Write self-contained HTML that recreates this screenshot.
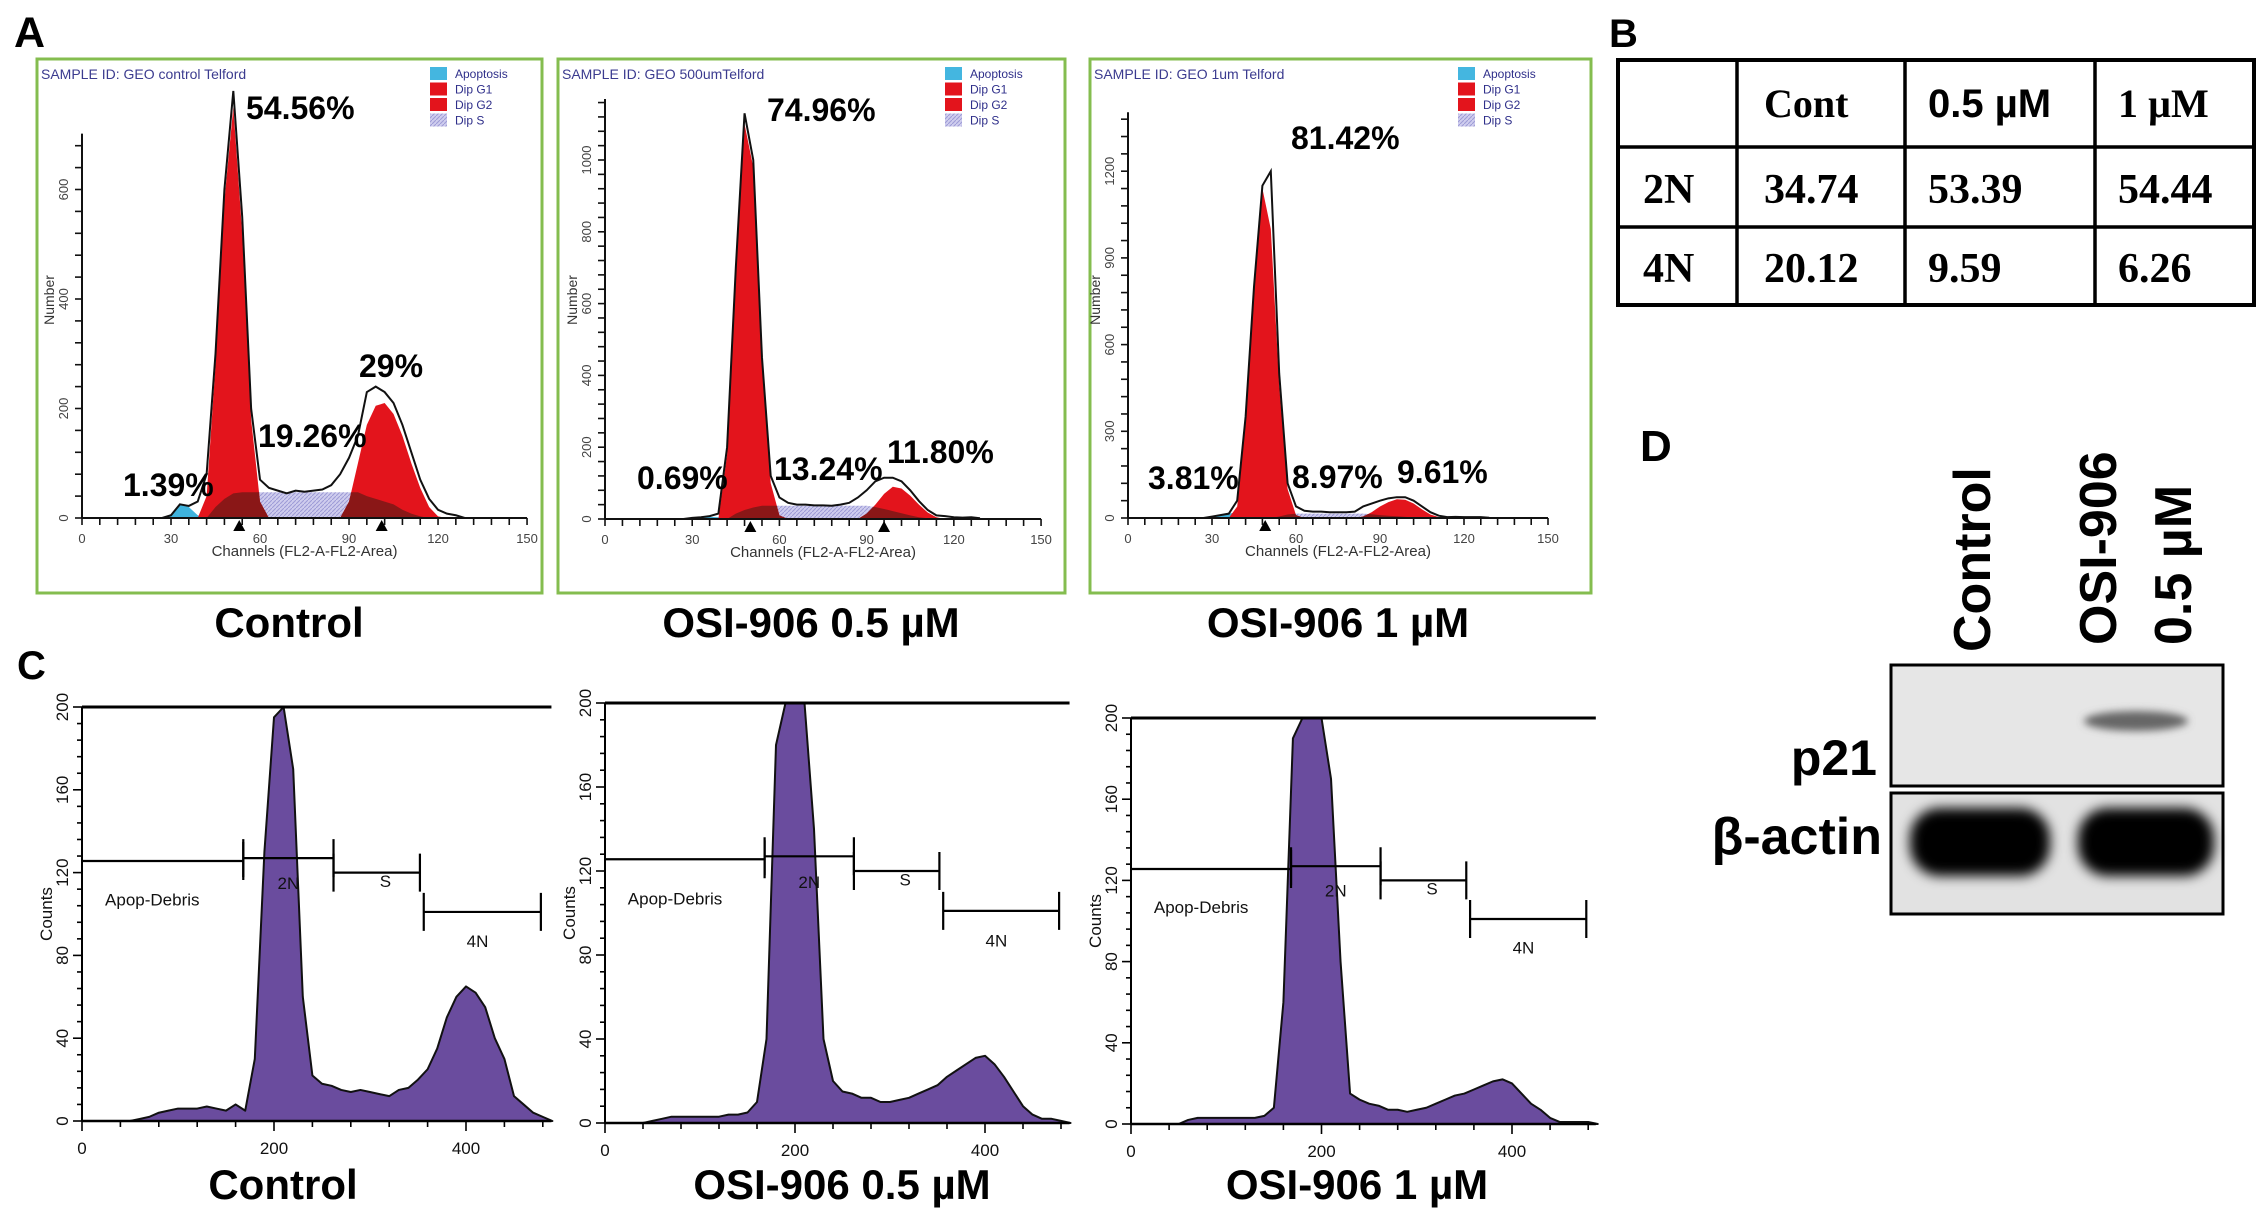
<!DOCTYPE html>
<html><head><meta charset="utf-8"><title>OSI-906 cell cycle figure</title>
<style>
html,body{margin:0;padding:0;background:#fff;}
svg{display:block;font-family:"Liberation Sans",Arial,sans-serif;}
</style></head>
<body>
<svg id="fig" width="2268" height="1215" viewBox="0 0 2268 1215" xmlns="http://www.w3.org/2000/svg">
<defs>
<filter id="blur6" x="-30%" y="-60%" width="160%" height="220%"><feGaussianBlur stdDeviation="6"/></filter>
<filter id="blur4" x="-30%" y="-60%" width="160%" height="220%"><feGaussianBlur stdDeviation="4"/></filter>
<pattern id="hatch" width="4" height="4" patternUnits="userSpaceOnUse"><rect width="4" height="4" fill="#cfcdee"/><path d="M0,4 L4,0" stroke="#9d9ad6" stroke-width="1"/></pattern>
</defs>
</svg>
<script>
// ---------- Panel A data (DNA content histograms, channel grid) ----------
const aChannels = [27,30,33,36,39,42,45,48,51,54,57,60,63,66,69,72,75,78,81,84,87,90,93,96,99,102,105,108,111,114,117,120,123,126,129];
const a1Outline = [0,5,25,22,30,80,300,600,780,550,200,70,55,50,45,50,48,50,52,60,80,110,150,230,240,230,210,170,120,70,35,15,8,5,0];
const a1G1 = [0,0,0,0,0,40,280,580,750,520,180,30,0,0,0,0,0,0,0,0,0,0,0,0,0,0,0,0,0,0,0,0,0,0,0];
const a1G2 = [0,0,0,0,0,0,0,0,0,0,0,0,0,0,0,0,0,0,0,0,0,30,100,170,205,210,190,150,100,55,20,3,0,0,0];
const a1S = [0,0,0,0,0,0,20,35,45,47,47,47,47,47,47,47,47,47,47,47,47,47,47,40,35,30,25,15,8,3,0,0,0,0,0];
const a1Apop = [0,5,25,20,5,0,0,0,0,0,0,0,0,0,0,0,0,0,0,0,0,0,0,0,0,0,0,0,0,0,0,0,0,0,0];
const a2Outline = [0,3,5,8,15,200,700,1130,1000,450,120,60,45,40,40,38,38,37,40,45,60,80,105,115,115,105,80,50,25,10,8,5,4,5,2];
const a2G1 = [0,0,0,0,0,180,680,1100,980,430,100,10,0,0,0,0,0,0,0,0,0,0,0,0,0,0,0,0,0,0,0,0,0,0,0];
const a2G2 = [0,0,0,0,0,0,0,0,0,0,0,0,0,0,0,0,0,0,0,0,0,15,40,70,90,85,65,40,18,5,0,0,0,0,0];
const a2S = [0,0,0,0,0,0,15,25,32,37,37,37,37,37,37,37,37,37,37,37,37,37,33,28,22,16,10,5,2,0,0,0,0,0,0];
const a2Apop = [0,2,4,6,5,0,0,0,0,0,0,0,0,0,0,0,0,0,0,0,0,0,0,0,0,0,0,0,0,0,0,0,0,0,0];
const a3Outline = [0,5,10,15,60,350,800,1150,1200,500,120,40,25,22,22,20,20,20,22,40,50,60,68,72,72,60,40,20,8,3,4,3,3,3,1];
const a3G1 = [0,0,0,0,40,330,780,1140,1000,460,100,10,0,0,0,0,0,0,0,0,0,0,0,0,0,0,0,0,0,0,0,0,0,0,0];
const a3G2 = [0,0,0,0,0,0,0,0,0,0,0,0,0,0,0,0,0,0,0,5,20,40,55,65,63,50,30,12,3,0,0,0,0,0,0];
const a3S = [0,0,0,0,0,0,0,0,0,5,12,15,15,15,15,15,15,15,15,15,13,10,8,6,4,2,0,0,0,0,0,0,0,0,0];
const a3Apop = [0,5,10,15,20,0,0,0,0,0,0,0,0,0,0,0,0,0,0,0,0,0,0,0,0,0,0,0,0,0,0,0,0,0,0];
const a1YTicks = [0,200,400,600];
const a2YTicks = [0,200,400,600,800,1000];
const a3YTicks = [0,300,600,900,1200];
const aXTicks = [0,30,60,90,120,150];
const a1Markers = [53,101];
const a2Markers = [50,96];
const a3Markers = [49];
const a1Pct = ['54.56%','29%','19.26%','1.39%'];
const a2Pct = ['74.96%','11.80%','13.24%','0.69%'];
const a3Pct = ['81.42%','9.61%','8.97%','3.81%'];
const legendLabels = ['Apoptosis','Dip G1','Dip G2','Dip S'];

// ---------- Panel C data (counts, x grid step 10) ----------
const cX = [0,10,20,30,40,50,60,70,80,90,100,110,120,130,140,150,160,170,180,190,200,210,220,230,240,250,260,270,280,290,300,310,320,330,340,350,360,370,380,390,400,410,420,430,440,450,460,470,480,490];
const c1Counts = [0,0,0,0,0,0,1,2,4,5, 6,6,6,7,6,5,8,5,30,130, 195,200,170,60,22,18,17,15,14,15, 14,13,12,15,16,20,25,35,50,60, 65,62,55,40,30,12,8,4,2,0];
const c2Counts = [0,0,0,0,0,1,2,3,3,3, 3,3,3,4,4,5,10,40,180,200, 200,200,140,40,20,15,14,12,12,10, 10,11,12,14,16,18,22,25,28,31, 32,28,22,15,8,4,2,2,1,0];
const c3Counts = [0,0,0,0,0,0,2,3,3,3, 3,3,3,3,4,8,60,190,200,200, 200,170,80,15,12,10,9,7,7,6, 7,8,10,12,14,15,17,19,21,22, 20,15,10,7,3,1,1,1,1,0];
const cYTicks = [0,40,80,120,160,200];
const cXTicks = [0,200,400];
const gateNames = ['Apop-Debris','2N','S','4N'];
const gateStart = [0,168,262,356];
const gateEnd = [168,262,352,478];
const gateLevel = [125.6,127,120,101];

// ---------- Panel B table ----------
const tableCols = ['', 'Cont', '0.5 µM', '1 µM'];
const tableRows = ['2N','4N'];
const table2N = ['34.74','53.39','54.44'];
const table4N = ['20.12','9.59','6.26'];

const NS='http://www.w3.org/2000/svg';
const svg=document.getElementById('fig');
function mk(tag,attrs,parent){const e=document.createElementNS(NS,tag);for(const k in attrs)e.setAttribute(k,attrs[k]);(parent||svg).appendChild(e);return e;}
function txt(str,attrs,parent){const e=mk('text',attrs,parent);e.textContent=str;return e;}

// panel letters
[['A',14,47,43],['B',1609,47,40],['C',17,679,40],['D',1640,461,44]].forEach(l=>{
  const t=txt(l[0],{x:l[1],y:l[2],'font-size':l[3],'font-weight':'bold',fill:'#000'});
  
  
});

// ---------- Panel A ----------
function drawA(id, cfg, outline, g1, g2, s, apop, yTicks, markers, pct, pctPos, sample, title){
  const g=mk('g',{});
  
  
  const sx=c=>cfg.ox+c*cfg.pxCh, sy=v=>cfg.oy-v*cfg.pxCnt;
  const fr=mk('rect',{x:cfg.fx,y:59,width:cfg.fw,height:534,fill:'#fff',stroke:'#84bd4f','stroke-width':3},g);
  
  
  const st=txt(sample,{x:cfg.fx+4,y:79,'font-size':14,fill:'#3b3b8f'},g);
  
  
  function poly(arr){let p=[[sx(aChannels[0]),sy(0)]];arr.forEach((v,i)=>p.push([sx(aChannels[i]),sy(v)]));p.push([sx(aChannels[aChannels.length-1]),sy(0)]);return p.map(q=>q.join(',')).join(' ');}
  const cpId='clip-'+id;
  const cp=mk('clipPath',{id:cpId},g);
  mk('polygon',{points:poly(g1)},cp);mk('polygon',{points:poly(g2)},cp);
  const sF=mk('polygon',{points:poly(s),fill:'url(#hatch)'},g);
  
  
  const apF=mk('polygon',{points:poly(apop),fill:'#3fb3dd'},g);
  
  
  const g1F=mk('polygon',{points:poly(g1),fill:'#e3141c'},g);
  
  
  const g2F=mk('polygon',{points:poly(g2),fill:'#e3141c'},g);
  
  
  const ov=mk('polygon',{points:poly(s),fill:'#8a1717','clip-path':'url(#'+cpId+')'},g);
  
  
  const ln=mk('polyline',{points:outline.map((v,i)=>sx(aChannels[i])+','+sy(v)).join(' '),fill:'none',stroke:'#111','stroke-width':2},g);
  
  
  const top=yTicks[yTicks.length-1]*1.17;
  const ya=mk('line',{x1:cfg.ox,y1:sy(0),x2:cfg.ox,y2:sy(top),stroke:'#111','stroke-width':2},g);
  
  
  const step=yTicks[1]/5;
  for(let v=0;v<=top;v+=step){mk('line',{x1:cfg.ox-7,y1:sy(v),x2:cfg.ox,y2:sy(v),stroke:'#111','stroke-width':1.6},g);}
  yTicks.forEach(v=>{const t=txt(String(v),{x:0,y:0,'font-size':13,fill:'#444','text-anchor':'middle',transform:`translate(${cfg.ox-14},${sy(v)}) rotate(-90)`},g);
    
    });
  const xa=mk('line',{x1:cfg.ox,y1:sy(0),x2:sx(150),y2:sy(0),stroke:'#111','stroke-width':2},g);
  
  
  for(let c=0;c<=150;c+=6){mk('line',{x1:sx(c),y1:sy(0),x2:sx(c),y2:sy(0)+7,stroke:'#111','stroke-width':1.6},g);}
  aXTicks.forEach(c=>{const t=txt(String(c),{x:sx(c),y:sy(0)+25,'font-size':13,fill:'#444','text-anchor':'middle'},g);
    
    });
  markers.forEach(c=>{const m=mk('polygon',{points:`${sx(c)-6},${sy(0)+13} ${sx(c)+6},${sy(0)+13} ${sx(c)},${sy(0)+2}`,fill:'#000'},g);
    
    });
  const xt=txt('Channels (FL2-A-FL2-Area)',{x:sx(75),y:sy(0)+38,'font-size':15,fill:'#333','text-anchor':'middle'},g);
  
  
  const yt=txt('Number',{x:0,y:0,'font-size':14,fill:'#333','text-anchor':'middle',transform:`translate(${cfg.ox-28},300) rotate(-90)`},g);
  
  
  const sw=['#44b6e0','#e3141c','#e3141c','url(#hatch)'];
  legendLabels.forEach((l,i)=>{
    const y=67+i*15.5;
    const r=mk('rect',{x:cfg.fx+cfg.lx,y:y,width:17,height:13,fill:sw[i]},g);
    
    
    const t=txt(l,{x:cfg.fx+cfg.lx+25,y:y+11,'font-size':12,fill:'#2f2f8a'},g);
    
    
  });
  pct.forEach((p,i)=>{const t=txt(p,{x:pctPos[i][0],y:pctPos[i][1],'font-size':32,'font-weight':'bold',fill:'#000'},g);
    
    });
  const ti=txt(title,{x:cfg.tx,y:637,'font-size':42,'font-weight':'bold','text-anchor':'middle',fill:'#000'},g);
  
  
}
drawA('control',{fx:37,fw:505,ox:82,oy:518,pxCh:2.967,pxCnt:0.5475,lx:393,tx:289},a1Outline,a1G1,a1G2,a1S,a1Apop,a1YTicks,a1Markers,a1Pct,[[246,119],[359,377],[258,447],[123,496]],'SAMPLE ID: GEO control Telford','Control');
drawA('osi-0-5',{fx:558,fw:507,ox:605,oy:519,pxCh:2.907,pxCnt:0.359,lx:387,tx:811},a2Outline,a2G1,a2G2,a2S,a2Apop,a2YTicks,a2Markers,a2Pct,[[767,121],[887,463],[774,480],[637,489]],'SAMPLE ID: GEO 500umTelford','OSI-906  0.5 µM');
drawA('osi-1',{fx:1090,fw:501,ox:1128,oy:518,pxCh:2.8,pxCnt:0.289,lx:368,tx:1338},a3Outline,a3G1,a3G2,a3S,a3Apop,a3YTicks,a3Markers,a3Pct,[[1291,149],[1397,483],[1292,488],[1148,489]],'SAMPLE ID: GEO 1um Telford','OSI-906  1 µM');

// ---------- Panel C ----------
function drawC(id,cfg,counts,title){
  const g=mk('g',{});
  
  
  const pxC=(cfg.y0-cfg.y200)/200;
  const sx=u=>cfg.ox+u*cfg.pxU, sy=v=>cfg.y0-Math.min(v,200)*pxC;
  let pts=[[sx(cX[0]),sy(0)]];
  counts.forEach((v,i)=>pts.push([sx(cX[i]),sy(v)]));
  pts.push([sx(cX[cX.length-1]),sy(0)]);
  const f=mk('polygon',{points:pts.map(p=>p.join(',')).join(' '),fill:'#6a4c9e',stroke:'#111','stroke-width':2,'stroke-linejoin':'round'},g);
  
  
  const tl=mk('line',{x1:cfg.ox,y1:sy(200),x2:sx(cfg.xEnd),y2:sy(200),stroke:'#000','stroke-width':3},g);
  
  
  const ya=mk('line',{x1:cfg.ox,y1:sy(0),x2:cfg.ox,y2:sy(200),stroke:'#000','stroke-width':2},g);
  
  
  for(let v=0;v<=200;v+=8){mk('line',{x1:cfg.ox-(v%40===0?9:5),y1:sy(v),x2:cfg.ox,y2:sy(v),stroke:'#000','stroke-width':1.6},g);}
  cYTicks.forEach(v=>{const t=txt(String(v),{x:0,y:0,'font-size':17,fill:'#111','text-anchor':'middle',transform:`translate(${cfg.ox-14},${sy(v)}) rotate(-90)`},g);
    
    });
  const xa=mk('line',{x1:cfg.ox,y1:sy(0),x2:sx(cfg.xEnd),y2:sy(0),stroke:'#000','stroke-width':2.5},g);
  
  
  for(let u=0;u<=cfg.xEnd;u+=40){mk('line',{x1:sx(u),y1:sy(0),x2:sx(u),y2:sy(0)+(u%200===0?10:6),stroke:'#000','stroke-width':1.6},g);}
  cXTicks.forEach(u=>{const t=txt(String(u),{x:sx(u),y:sy(0)+33,'font-size':17,fill:'#111','text-anchor':'middle'},g);
    
    });
  const yt=txt('Counts',{x:0,y:0,'font-size':17,fill:'#111','text-anchor':'middle',transform:`translate(${cfg.ox-30},${sy(100)}) rotate(-90)`},g);
  
  
  gateNames.forEach((n,i)=>{
    const y=sy(gateLevel[i]);
    const gl=mk('path',{d:`M${sx(gateStart[i])},${y} H${sx(gateEnd[i])} M${sx(gateStart[i])},${y-19} V${y+19} M${sx(gateEnd[i])},${y-19} V${y+19}`,stroke:'#000','stroke-width':2.2,fill:'none'},g);
    if(i===0) gl.setAttribute('d',`M${sx(gateStart[i])},${y} H${sx(gateEnd[i])} M${sx(gateEnd[i])},${y-19} V${y+19}`);
    
    
  });
  const lp=[[24,104,'start'],[215,112,'middle'],[316,113,'middle'],[412,84,'middle']];
  gateNames.forEach((n,i)=>{const t=txt(n,{x:sx(lp[i][0]),y:sy(lp[i][1]),'font-size':17,fill:'#111','text-anchor':lp[i][2]},g);
    
    });
  const ti=txt(title,{x:cfg.tx,y:1199,'font-size':42,'font-weight':'bold','text-anchor':'middle',fill:'#000'},g);
  
  
}
drawC('control',{ox:82,y0:1121,y200:707,pxU:0.96,xEnd:489,tx:283},c1Counts,'Control');
drawC('osi-0-5',{ox:605,y0:1123,y200:703,pxU:0.95,xEnd:489,tx:842},c2Counts,'OSI-906  0.5 µM');
drawC('osi-1',{ox:1131,y0:1124,y200:718,pxU:0.9525,xEnd:488,tx:1357},c3Counts,'OSI-906  1 µM');

// ---------- Panel B table ----------
(function(){
  const g=mk('g',{});
  
  
  const xs=[1618,1737,1905,2095,2254], ys=[60,147,227,305];
  const fr=mk('rect',{x:xs[0],y:ys[0],width:xs[4]-xs[0],height:ys[3]-ys[0],fill:'#fff',stroke:'#000','stroke-width':4},g);
  
  
  xs.slice(1,4).forEach(x=>mk('line',{x1:x,y1:ys[0],x2:x,y2:ys[3],stroke:'#000','stroke-width':3.5},g));
  ys.slice(1,3).forEach(y=>mk('line',{x1:xs[0],y1:y,x2:xs[4],y2:y,stroke:'#000','stroke-width':3.5},g));
  const hx=[0,1764,1928,2118];
  tableCols.forEach((c,i)=>{if(!c)return;const t=txt(c,{x:hx[i],y:117,'font-size':40,'font-weight':'bold',fill:'#000','font-family':i===2?'"Liberation Sans",sans-serif':'"Liberation Serif",serif'},g);
    
    });
  const rows=[table2N,table4N], by=[203,282];
  tableRows.forEach((r,ri)=>{
    const t=txt(r,{x:1643,y:by[ri],'font-size':42,'font-weight':'bold',fill:'#000','font-family':'"Liberation Serif",serif'},g);
    
    
    rows[ri].forEach((v,ci)=>{const c=txt(v,{x:hx[ci+1],y:by[ri],'font-size':42,'font-weight':'bold',fill:'#000','font-family':'"Liberation Serif",serif'},g);
      
      });
  });
})();

// ---------- Panel D blot ----------
(function(){
  const g=mk('g',{});
  
  
  const l1=txt('Control',{x:0,y:0,'font-size':52,'font-weight':'bold',fill:'#000',transform:'translate(1990,652) rotate(-90)'},g);
  
  
  const l2=txt('OSI-906',{x:0,y:0,'font-size':52,'font-weight':'bold',fill:'#000',transform:'translate(2116,645) rotate(-90)'},g);
  
  
  const l3=txt('0.5 µM',{x:0,y:0,'font-size':52,'font-weight':'bold',fill:'#000',transform:'translate(2191,645) rotate(-90)'},g);
  
  
  const p=mk('rect',{x:1891,y:665,width:332,height:121,fill:'#e6e6e6',stroke:'#000','stroke-width':3},g);
  
  
  const pb=mk('ellipse',{cx:2136,cy:721,rx:52,ry:10,fill:'#666',filter:'url(#blur4)'},g);
  
  
  const a=mk('rect',{x:1891,y:793,width:332,height:121,fill:'#e2e2e2',stroke:'#000','stroke-width':3},g);
  
  
  const b1=mk('rect',{x:1910,y:808,width:140,height:68,rx:30,fill:'#000',filter:'url(#blur6)'},g);
  
  
  const b2=mk('rect',{x:2078,y:808,width:136,height:68,rx:30,fill:'#000',filter:'url(#blur6)'},g);
  
  
  const t1=txt('p21',{x:1877,y:775,'font-size':50,'font-weight':'bold',fill:'#000','text-anchor':'end'},g);
  
  
  const t2=txt('β-actin',{x:1882,y:854,'font-size':52,'font-weight':'bold',fill:'#000','text-anchor':'end'},g);
  
  
})();
</script>
</body></html>
